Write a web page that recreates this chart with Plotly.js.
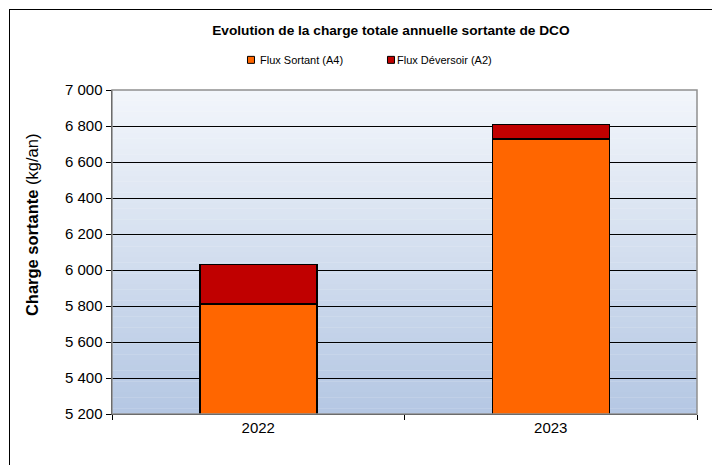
<!DOCTYPE html>
<html>
<head>
<meta charset="utf-8">
<script src="https://cdn.plot.ly/plotly-3.0.1.min.js"></script>
<style>
  html, body { margin: 0; padding: 0; background: #fff; }
  #wrap { position: relative; width: 712px; height: 465px; overflow: hidden; }
  #frame { position: absolute; left: 9px; top: 9px; width: 760px; height: 520px;
           border-left: 1.5px solid #000; border-top: 1.5px solid #000; pointer-events: none; }
  #chart { position: absolute; left: 0; top: 0; width: 712px; height: 465px; }
</style>
</head>
<body>
<div id="wrap">
  <div id="chart"></div>
  <div id="frame"></div>
</div>
<script>
const years = ['2022', '2023'];
const fluxSortant = [5810, 6728];
const fluxDeversoir = [220, 80];
const seriesNames = ['Flux Sortant (A4)', 'Flux Déversoir (A2)'];
const seriesColors = ['#ff6600', '#c00000'];
const yTicks = [5200, 5400, 5600, 5800, 6000, 6200, 6400, 6600, 6800, 7000];
const yTitle = '<b>Charge sortante</b> (kg/an)';
const chartTitle = '<b>Evolution de la charge totale annuelle sortante de DCO</b>';

const font = 'Arial, "Liberation Sans", sans-serif';

const traces = [
  { type: 'bar', x: years, y: fluxSortant, name: seriesNames[0], showlegend: false,
    marker: { color: seriesColors[0], line: { color: '#000', width: 1.5 } }, width: 0.4 },
  { type: 'bar', x: years, y: fluxDeversoir, name: seriesNames[1], showlegend: false,
    marker: { color: seriesColors[1], line: { color: '#000', width: 1.5 } }, width: 0.4 },
  { type: 'scatter', mode: 'markers', x: [null], y: [null], name: seriesNames[0],
    marker: { symbol: 'square', size: 7, color: seriesColors[0], line: { color: '#000', width: 1 } } },
  { type: 'scatter', mode: 'markers', x: [null], y: [null], name: seriesNames[1],
    marker: { symbol: 'square', size: 7, color: seriesColors[1], line: { color: '#000', width: 1 } } }
];

// gradient background of the plot area
const shapes = [];
const N = 60;
function lerp(a, b, t) { return Math.round(a + (b - a) * t); }
const cTop = [243, 246, 251], cBot = [180, 199, 227];
for (let i = 0; i < N; i++) {
  const t = (i + 0.5) / N;
  const c = [lerp(cTop[0], cBot[0], t), lerp(cTop[1], cBot[1], t), lerp(cTop[2], cBot[2], t)];
  shapes.push({ type: 'rect', layer: 'below', xref: 'x domain', yref: 'y domain',
    x0: 0, x1: 1, y0: 1 - (i + 1) / N, y1: 1 - i / N + 0.001,
    fillcolor: 'rgb(' + c.join(',') + ')', line: { width: 0 } });
}
shapes.push({ type: 'rect', layer: 'above', xref: 'x domain', yref: 'y domain',
  x0: 0, x1: 1, y0: 0, y1: 1, line: { color: '#909090', width: 1.5 } });

const layout = {
  width: 712, height: 465,
  margin: { l: 112, r: 15, t: 90, b: 51 },
  paper_bgcolor: 'rgba(0,0,0,0)',
  plot_bgcolor: 'rgba(0,0,0,0)',
  barmode: 'stack',
  separators: ', ',
  font: { family: font, color: '#000', size: 12 },
  title: { text: chartTitle,
    font: { family: font, size: 13.7, color: '#000' }, x: 0.549, xanchor: 'center', y: 0.935, yanchor: 'middle' },
  showlegend: true,
  legend: { orientation: 'h', traceorder: 'normal', x: 0.2034, xanchor: 'left', y: 1.093, yanchor: 'middle',
    entrywidth: 95, entrywidthmode: 'pixels',
    font: { family: font, size: 11, color: '#000' }, bgcolor: 'rgba(0,0,0,0)' },
  xaxis: { type: 'category', showgrid: false, zeroline: false, showline: true, linecolor: '#000', linewidth: 1,
    ticks: 'outside', tickson: 'boundaries', ticklen: 5, tickcolor: '#000',
    tickfont: { family: font, size: 15, color: '#000' } },
  yaxis: { range: [5200, 7000], tickvals: yTicks, tickformat: ',d', showgrid: true, gridcolor: '#000', gridwidth: 1,
    zeroline: false, showline: true, linecolor: '#000', linewidth: 1.5, ticks: 'outside', ticklen: 5, tickcolor: '#000',
    tickfont: { family: font, size: 15, color: '#000' } },
  annotations: [
    { text: yTitle, xref: 'paper', yref: 'paper', x: -0.1368, y: 0.583, xanchor: 'center', yanchor: 'middle',
      textangle: -90, showarrow: false, font: { family: font, size: 16.5, color: '#000' } }
  ],
  shapes: shapes
};

Plotly.newPlot('chart', traces, layout, { displayModeBar: false, staticPlot: true }).then(function (gd) {
  const offs = [29, 26];
  const texts = gd.querySelectorAll('.legend .traces .legendtext');
  texts.forEach(function (t, i) { t.setAttribute('x', offs[i] !== undefined ? offs[i] : 40); });
});
</script>
</body>
</html>
